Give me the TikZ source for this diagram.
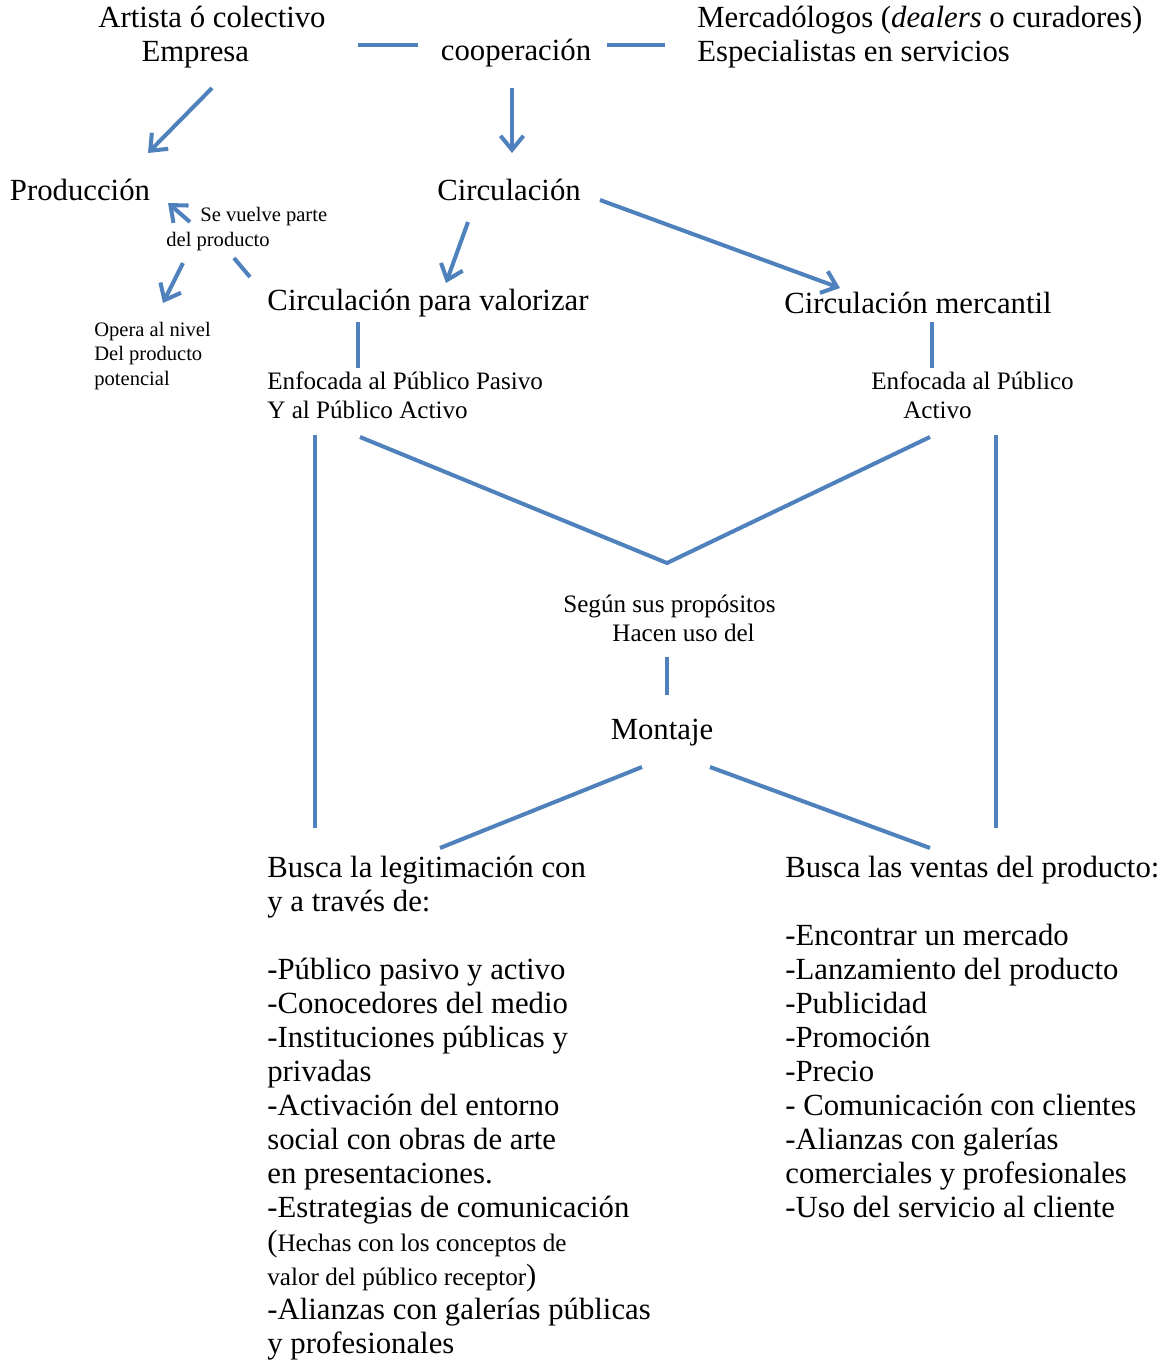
\documentclass[tikz,border=0pt]{standalone}
\usepackage{fontspec}
\setmainfont{Liberation Serif}
\usetikzlibrary{arrows.meta}
\definecolor{linkb}{RGB}{79,129,189}
\newcommand{\bigsz}{\fontsize{17.5}{19.35}\selectfont}
\newcommand{\midsz}{\fontsize{14.3}{16.5}\selectfont}
\newcommand{\smsz}{\fontsize{11.7}{13.9}\selectfont}

\begin{document}
\begin{tikzpicture}[
  txt/.style={inner sep=0pt, font=\bigsz, align=center},
  ltxt/.style={inner sep=0pt, font=\bigsz, align=left, anchor=west},
  link/.style={line width=2.3pt, linkb},
  arr/.style={link, -{Straight Barb[length=2.8mm, width=4.6mm]}}]
  \useasboundingbox (0,0) rectangle (23.46,-27.3);
  % top row
  \node[txt] (artista) at (4.24,-0.74) {Artista ó colectivo\\Empresa\hspace*{19pt}};
  \node[txt] (coop) at (10.32,-1.06) {cooperación};
  \node[ltxt] (merc) at (13.94,-0.74) {Mercadólogos (\emph{dealers} o curadores)\\Especialistas en servicios};
  % second row
  \node[txt] (prod) at (1.60,-3.80) {Producción};
  \node[txt] (circ) at (10.18,-3.80) {Circulación};
  \node[ltxt, font=\smsz] (vuelve) at (3.32,-4.58) {\hspace*{19.4pt}Se vuelve parte\\del producto};
  \node[ltxt, font=\smsz] (opera) at (1.88,-7.12) {Opera al nivel\\Del producto\\potencial};
  % circulation kinds
  \node[txt] (valor) at (8.56,-6.06) {Circulación para valorizar};
  \node[txt] (merca) at (18.36,-6.06) {Circulación mercantil};
  \node[ltxt, font=\midsz] (enfA) at (5.34,-7.90) {Enfocada al Público Pasivo\\Y al Público Activo};
  \node[ltxt, font=\midsz] (enfB) at (17.42,-7.90) {Enfocada al Público\\\hspace*{18.2pt}Activo};
  % middle
  \node[ltxt, font=\midsz] (segun) at (11.26,-12.37) {Según sus propósitos\\\hspace*{27.9pt}Hacen uso del};
  \node[txt] (montaje) at (13.24,-14.66) {Montaje};
  % lists
  \node[ltxt, anchor=north west] (legit) at (5.34,-17.12) {Busca la legitimación con\\
    y a través de:\\[19.35pt]
    -Público pasivo y activo\\
    -Conocedores del medio\\
    -Instituciones públicas y\\
    privadas\\
    -Activación del entorno\\
    social con obras de arte\\
    en presentaciones.\\
    -Estrategias de comunicación\\
    ({\midsz Hechas con los conceptos de}\\
    {\midsz valor del público receptor})\\
    -Alianzas con galerías públicas\\
    y profesionales};
  \node[ltxt, anchor=north west] (ventas) at (15.70,-17.12) {Busca las ventas del producto:\\[19.35pt]
    -Encontrar un mercado\\
    -Lanzamiento del producto\\
    -Publicidad\\
    -Promoción\\
    -Precio\\
    - Comunicación con clientes\\
    -Alianzas con galerías\\
    comerciales y profesionales\\
    -Uso del servicio al cliente};
  % connector ends
  \coordinate (d1a) at (7.16,-0.90);  \coordinate (d1b) at (8.36,-0.90);
  \coordinate (d2a) at (12.14,-0.90); \coordinate (d2b) at (13.30,-0.90);
  \coordinate (empS) at (4.24,-1.76); \coordinate (prodT) at (2.96,-3.06);
  \coordinate (coopS) at (10.24,-1.76); \coordinate (circT) at (10.24,-3.06);
  \coordinate (circR) at (12.0,-4.0); \coordinate (mercaT) at (16.8,-5.76);
  \coordinate (circB) at (9.36,-4.44); \coordinate (valorT) at (8.92,-5.66);
  \coordinate (vuelS) at (3.80,-4.44); \coordinate (prodR) at (3.36,-4.06);
  \coordinate (vuelB) at (3.66,-5.26); \coordinate (operaT) at (3.26,-6.06);
  \coordinate (tickA) at (4.68,-5.16); \coordinate (tickB) at (5.00,-5.54);
  \coordinate (valorB) at (7.16,-6.44); \coordinate (enfAT) at (7.16,-7.36);
  \coordinate (mercaB) at (18.64,-6.44); \coordinate (enfBT) at (18.64,-7.36);
  \coordinate (leftT) at (6.30,-8.70); \coordinate (leftB) at (6.30,-16.56);
  \coordinate (rightT) at (19.92,-8.70); \coordinate (rightB) at (19.92,-16.56);
  \coordinate (vA) at (7.20,-8.74); \coordinate (vTip) at (13.34,-11.26); \coordinate (vB) at (18.60,-8.74);
  \coordinate (segB) at (13.34,-13.14); \coordinate (montT) at (13.34,-13.90);
  \coordinate (montL) at (12.84,-15.34); \coordinate (legitT) at (8.80,-16.96);
  \coordinate (montR) at (14.20,-15.34); \coordinate (ventasT) at (18.60,-16.96);
  % links
  \draw[link] (d1a) -- (d1b);
  \draw[link] (d2a) -- (d2b);
  \draw[arr] (empS) -- (prodT);
  \draw[arr] (coopS) -- (circT);
  \draw[arr] (circR) -- (mercaT);
  \draw[arr] (circB) -- (valorT);
  \draw[arr] (vuelS) -- (prodR);
  \draw[arr] (vuelB) -- (operaT);
  \draw[link] (tickA) -- (tickB);
  \draw[link] (valorB) -- (enfAT);
  \draw[link] (mercaB) -- (enfBT);
  \draw[link] (leftT) -- (leftB);
  \draw[link] (rightT) -- (rightB);
  \draw[link] (vA) -- (vTip) -- (vB);
  \draw[link] (segB) -- (montT);
  \draw[link] (montL) -- (legitT);
  \draw[link] (montR) -- (ventasT);
\end{tikzpicture}
\end{document}
